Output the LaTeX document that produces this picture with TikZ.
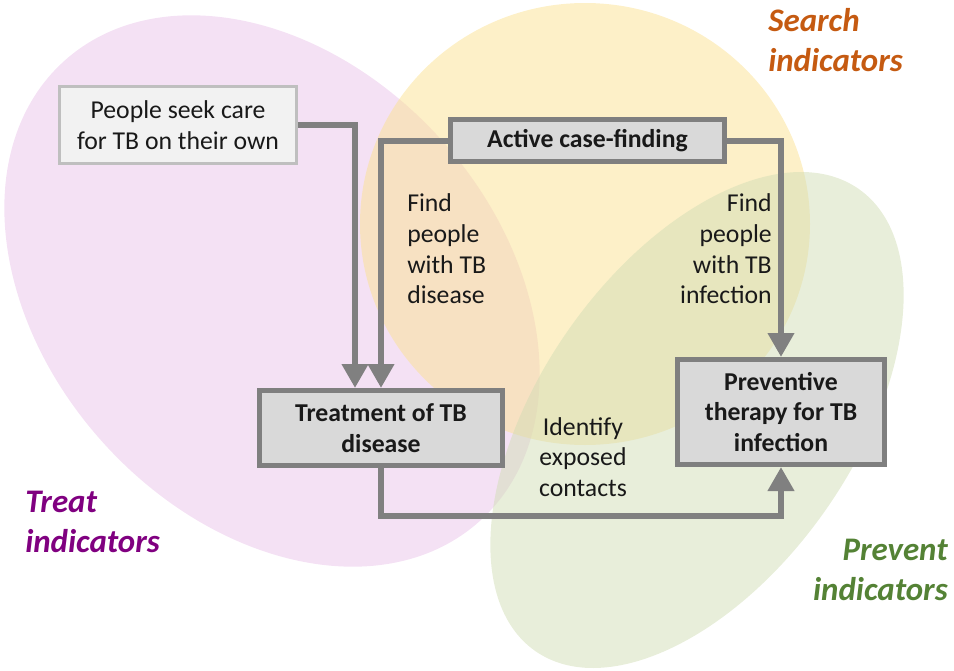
\documentclass[tikz,border=0pt]{standalone}
\usepackage{fontspec}
\setmainfont{Carlito}
\usetikzlibrary{arrows.meta,calc}
\definecolor{purp}{RGB}{233,195,233}
\definecolor{yell}{RGB}{251,225,145}
\definecolor{gree}{RGB}{209,221,181}
\definecolor{boxgray}{RGB}{217,217,217}
\definecolor{boxline}{RGB}{127,127,127}
\definecolor{lightbox}{RGB}{242,242,242}
\definecolor{lightline}{RGB}{191,191,191}
\definecolor{conncol}{RGB}{128,128,128}
\definecolor{treatcol}{RGB}{128,0,128}
\definecolor{searchcol}{RGB}{197,90,17}
\definecolor{preventcol}{RGB}{84,130,53}
\definecolor{txt}{RGB}{25,25,25}
\begin{document}
\begin{tikzpicture}[x=0.75pt,y=-0.75pt,
  bodytext/.style={inner sep=0pt, text=txt, font=\fontsize{19.3}{23}\selectfont},
  mainbox/.style={draw=boxline, fill=boxgray, line width=3.75pt, align=center,
    inner sep=0pt, text=txt, font=\fontsize{19.3}{23}\selectfont\bfseries},
  sidebox/.style={draw=lightline, fill=lightbox, line width=2.25pt, align=center,
    inner sep=0pt, text=txt, font=\fontsize{19.3}{23}\selectfont},
  indtext/.style={inner sep=0pt, font=\fontsize{24.7}{30}\selectfont\bfseries\itshape},
  conn/.style={draw=conncol, line width=4.5pt, line join=miter,
    -{Triangle[length=18pt,width=19pt]}}
]
\useasboundingbox (0,0) rectangle (954,671);
% indicator regions
\fill[purp, fill opacity=0.5, rotate around={-47.8:(272,291)}] (272,291) ellipse [x radius=310, y radius=227];
\fill[yell, fill opacity=0.5] (585,224) ellipse [x radius=225, y radius=221];
\fill[gree, fill opacity=0.5, rotate around={55:(697,420)}] (697,420) ellipse [x radius=282, y radius=157];

% boxes
\node[sidebox, minimum width=177.75pt, minimum height=57.75pt] (people) at (178,125)
  {People seek care\\for TB on their own};
\node[mainbox, minimum width=205.5pt, minimum height=31.5pt] (acf) at (587.5,140.5)
  {Active case-finding};
\node[mainbox, minimum width=182.25pt, minimum height=56.25pt] (treat) at (381,428)
  {Treatment of TB\\disease};
\node[mainbox, minimum width=155.25pt, minimum height=78.75pt] (prev) at (781,412)
  {Preventive\\therapy for TB\\infection};

% labels
\node[bodytext, align=left, anchor=west] (findl) at (407,249)
  {Find\\people\\with TB\\disease};
\node[bodytext, align=right, anchor=east] (findr) at (772,249)
  {Find\\people\\with TB\\infection};
\node[bodytext, align=center] (ident) at (583,457)
  {Identify\\exposed\\contacts};

\node[indtext, text=searchcol, align=left, anchor=west] (search) at (768,40)
  {Search\\indicators};
\node[indtext, text=treatcol, align=left, anchor=west] (treatind) at (25,522)
  {Treat\\indicators};
\node[indtext, text=preventcol, align=right, anchor=east] (prevind) at (948,570)
  {Prevent\\indicators};

% connectors
\coordinate (low) at (0,516);
\draw[conn] (people.east) -| ($(treat.north)+(-26,0)$);
\draw[conn] (acf.west) -| (treat.north);
\draw[conn] (acf.east) -| (prev.north);
\draw[conn] (treat.south) -- (treat.south |- low) -- (prev.south |- low) -- (prev.south);
\end{tikzpicture}
\end{document}
